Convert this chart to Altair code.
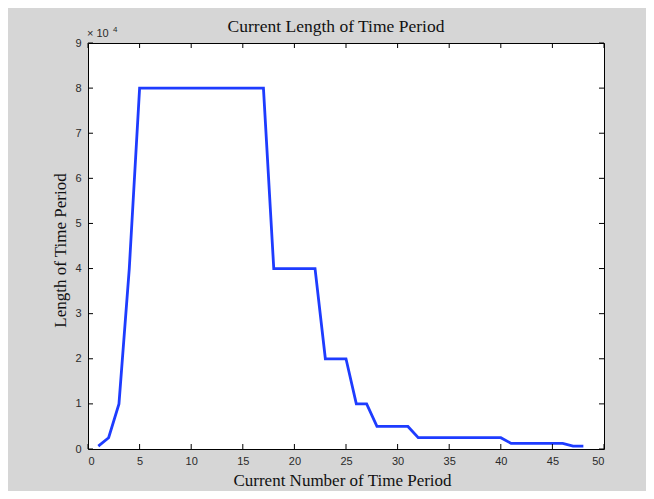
import altair as alt
import pandas as pd

# Data
period = list(range(1, 49))
length = ([625, 2500, 10000, 40000]
          + [80000] * 13      # 5..17
          + [40000] * 5       # 18..22
          + [20000] * 3       # 23..25
          + [10000] * 2       # 26..27
          + [5000] * 4        # 28..31
          + [2500] * 9        # 32..40
          + [1250] * 6        # 41..46
          + [625] * 2)        # 47..48

x_ticks = list(range(0, 51, 5))
y_ticks = list(range(0, 90001, 10000))

W, H = 516, 406
TL = 5

df = pd.DataFrame({"period": period, "length": length})
xt = pd.DataFrame({"v": x_ticks})
yt = pd.DataFrame({"v": y_ticks})

xscale = alt.Scale(domain=[0, 50], nice=False, zero=False)
yscale = alt.Scale(domain=[0, 90000], nice=False)

label_font = "Liberation Sans"
title_font = "Liberation Serif"
TFS = 17

xaxis = alt.Axis(values=x_ticks, ticks=False, domain=False, grid=False,
                 labelPadding=6, labelFont=label_font, labelFontSize=11,
                 labelColor="#2a2a2a", title="Current Number of Time Period",
                 titleFont=title_font, titleFontSize=TFS, titleFontWeight="normal",
                 titleColor="#111111", titlePadding=6, titleX=W / 2 - 4)
yaxis = alt.Axis(values=y_ticks, ticks=False, domain=False, grid=False,
                 labelExpr="datum.value / 10000", labelPadding=7,
                 labelFont=label_font, labelFontSize=11, labelColor="#2a2a2a",
                 title="Length of Time Period", titleFont=title_font,
                 titleFontSize=TFS, titleFontWeight="normal",
                 titleColor="#111111", titlePadding=5, titleY=H / 2 + 4)

line = alt.Chart(df).mark_line(color="#1e3cff", strokeWidth=2.8).encode(
    x=alt.X("period:Q", scale=xscale, axis=xaxis),
    y=alt.Y("length:Q", scale=yscale, axis=yaxis),
)

xt_bottom = alt.Chart(xt).mark_rule(color="black", strokeWidth=1).encode(
    x=alt.X("v:Q", scale=xscale, axis=xaxis), y=alt.value(H), y2=alt.value(H - TL))
xt_top = alt.Chart(xt).mark_rule(color="black", strokeWidth=1).encode(
    x=alt.X("v:Q", scale=xscale, axis=xaxis), y=alt.value(0), y2=alt.value(TL))
yt_left = alt.Chart(yt).mark_rule(color="black", strokeWidth=1).encode(
    y=alt.Y("v:Q", scale=yscale, axis=yaxis), x=alt.value(0), x2=alt.value(TL))
yt_right = alt.Chart(yt).mark_rule(color="black", strokeWidth=1).encode(
    y=alt.Y("v:Q", scale=yscale, axis=yaxis), x=alt.value(W), x2=alt.value(W - TL))

title = alt.Chart(pd.DataFrame({"t": ["Current Length of Time Period"]})).mark_text(
    align="center", baseline="middle", font=title_font, fontSize=17.5, color="#111111"
).encode(text="t:N", x=alt.value(W / 2 - 10), y=alt.value(-16))
exp_base = alt.Chart(pd.DataFrame({"t": ["× 10"]})).mark_text(
    align="left", baseline="middle", font=label_font, fontSize=11, color="#2a2a2a"
).encode(text="t:N", x=alt.value(-1), y=alt.value(-9))
exp_pow = alt.Chart(pd.DataFrame({"t": ["4"]})).mark_text(
    align="left", baseline="middle", font=label_font, fontSize=8, color="#2a2a2a"
).encode(text="t:N", x=alt.value(25), y=alt.value(-13))

chart = alt.layer(line, xt_bottom, xt_top, yt_left, yt_right, title, exp_base, exp_pow).properties(
    width=W, height=H,
    autosize=alt.AutoSizeParams(type="none"),
    padding={"left": 80, "top": 35, "right": 42, "bottom": 42},
    background="#d6d6d6",
).configure_view(fill="white", stroke="black", strokeWidth=1)

chart.save("out.html", embed_options={"renderer": "svg", "actions": False})
